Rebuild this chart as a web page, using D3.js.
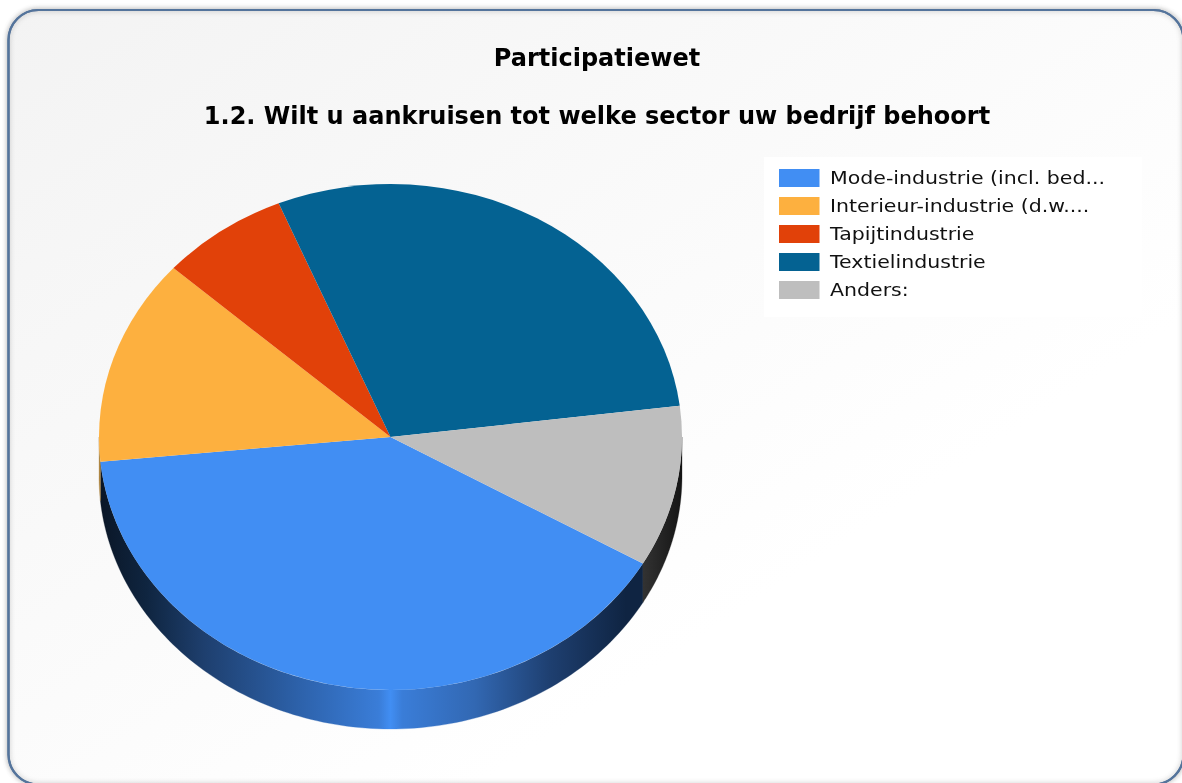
<!DOCTYPE html>
<html><head><meta charset="utf-8">
<script src="https://cdn.jsdelivr.net/npm/d3@7/dist/d3.min.js"></script>
<style>html,body{margin:0;padding:0;background:#fff;overflow:hidden}svg{display:block;filter:blur(0.6px)}text{font-family:"DejaVu Sans",sans-serif}</style>
</head><body><div id="c"></div>
<script>
const titles = ["Participatiewet", "1.2. Wilt u aankruisen tot welke sector uw bedrijf behoort"];
const categories = ["Mode-industrie (incl. bed...", "Interieur-industrie (d.w....", "Tapijtindustrie", "Textielindustrie", "Anders:"];
const values = [40.1, 13.2, 7.1, 29.3, 10.3];
const colors = ["#418ef3", "#fdb03f", "#e14109", "#046292", "#bebebe"];

const W = 1182, H = 783, cx = 390.5, cy = 437, rx = 291.5, ry = 253, depth = 39;
const svg = d3.select("#c").append("svg").attr("width", W).attr("height", H);
const defs = svg.append("defs");

const bg = defs.append("linearGradient").attr("id","bg").attr("x1","0").attr("y1","0").attr("x2","1").attr("y2","1");
bg.append("stop").attr("offset","0").attr("stop-color","#f3f3f3");
bg.append("stop").attr("offset","0.7").attr("stop-color","#ffffff");
const bs = defs.append("filter").attr("id","sh").attr("x","-5%").attr("y","-5%").attr("width","110%").attr("height","110%");
bs.append("feDropShadow").attr("dx",0).attr("dy",0).attr("stdDeviation",2.5).attr("flood-color","#000").attr("flood-opacity",0.18);
const ib = defs.append("filter").attr("id","ib").attr("x","-2%").attr("y","-2%").attr("width","104%").attr("height","104%");
ib.append("feGaussianBlur").attr("stdDeviation",2.5);
const box = {x:8.5,y:10,width:1175,height:774.5,rx:30};
const setBox = s => s.attr("x",box.x).attr("y",box.y).attr("width",box.width).attr("height",box.height).attr("rx",box.rx);
svg.append("rect").call(setBox).attr("fill","url(#bg)").attr("stroke","#54749c").attr("stroke-width",2.2).attr("filter","url(#sh)");
svg.append("rect").call(setBox).attr("fill","none").attr("stroke","#888").attr("stroke-width",3).attr("opacity",0.45).attr("filter","url(#ib)");
svg.append("rect").call(setBox).attr("fill","none").attr("stroke","#54749c").attr("stroke-width",2.2);

svg.selectAll("text.title").data(titles).join("text").attr("class","title")
  .attr("x",597).attr("y",(d,i)=>i?124:66).attr("text-anchor","middle")
  .attr("font-size",24).attr("font-weight","bold").attr("fill","#000").text(d=>d);

const start = 120 * Math.PI/180;
const arcs = d3.pie().sort(null).startAngle(start).endAngle(start + 2*Math.PI)(values);
const pt = (a, dz=0) => [cx + rx*Math.sin(a), cy - ry*Math.cos(a) + dz];
const sideGrad = defs.append("linearGradient").attr("id","side0").attr("gradientUnits","userSpaceOnUse")
  .attr("x1",cx-rx).attr("x2",cx+rx).attr("y1",0).attr("y2",0);
[[0,"#0a1626"],[0.082,"#0f2540"],[0.18,"#1e3f6e"],[0.345,"#2d62ab"],[0.48,"#3a7dd8"],[0.5,"#418ef3"],[0.52,"#3a7dd8"],[0.644,"#3268b3"],[0.774,"#1e3f70"],[0.904,"#0f2442"]]
 .forEach(s=>sideGrad.append("stop").attr("offset",s[0]).attr("stop-color",s[1]));
const greyGrad = defs.append("linearGradient").attr("id","side4").attr("gradientUnits","userSpaceOnUse")
  .attr("x1",642).attr("x2",683).attr("y1",0).attr("y2",0);
[[0,"#333333"],[1,"#141414"]].forEach(s=>greyGrad.append("stop").attr("offset",s[0]).attr("stop-color",s[1]));

const lineG = d3.line();
const sideFill = {0:"url(#side0)",1:"#b08844",4:"url(#side4)"};
const g = svg.append("g");
arcs.forEach((a,i)=>{
  if(!(i in sideFill)) return;
  const lo = Math.max(a.startAngle, Math.PI/2), hi = Math.min(a.endAngle, 3*Math.PI/2);
  let ranges = [];
  if (hi>lo) ranges.push([lo,hi]);
  const lo2 = Math.max(a.startAngle, 2.5*Math.PI), hi2 = Math.min(a.endAngle, 3.5*Math.PI);
  if (hi2>lo2) ranges.push([lo2,hi2]);
  ranges.forEach(([s,e])=>{
    const n = 120, as = d3.range(n+1).map(k=>s+(e-s)*k/n);
    const p = as.map(t=>pt(t)).concat(as.slice().reverse().map(t=>pt(t,depth)));
    g.append("path").attr("d",lineG(p)+"Z").attr("fill",sideFill[i]).attr("stroke",sideFill[i]).attr("stroke-width",0.3);
  });
});
const arcGen = d3.arc().innerRadius(0).outerRadius(rx);
svg.append("g").attr("transform",`translate(${cx},${cy}) scale(1,${ry/rx})`)
  .selectAll("path").data(arcs).join("path").attr("d",arcGen).attr("fill",(d,i)=>colors[i]);

const lg = svg.append("g");
lg.append("rect").attr("x",764).attr("y",157).attr("width",378).attr("height",160).attr("fill","#fff");
const rows = lg.selectAll("g").data(categories).join("g").attr("transform",(d,i)=>`translate(779,${169+i*28})`);
rows.append("rect").attr("width",40.5).attr("height",18).attr("fill",(d,i)=>colors[i]);
rows.append("text").attr("transform","translate(51,15) scale(1.14,1)").attr("font-size",18).attr("fill","#111").text(d=>d);
</script></body></html>
